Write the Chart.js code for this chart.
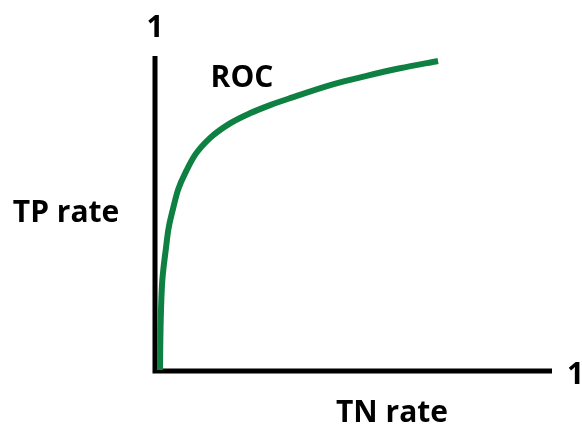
<!DOCTYPE html>
<html>
<head>
<meta charset="utf-8">
<script src="https://cdn.jsdelivr.net/npm/chart.js@4/dist/chart.umd.min.js"></script>
<style>
  html, body { margin: 0; padding: 0; background: #fff; }
  #wrap { width: 582px; height: 427px; }
</style>
</head>
<body>
<div id="wrap"><canvas id="roc"></canvas></div>
<script>
// ROC curve (x = TN rate, y = TP rate)
var tnRate = [0.0126, 0.0134, 0.0151, 0.0176, 0.0209, 0.027, 0.0335, 0.0446, 0.058, 0.080, 0.101, 0.139, 0.189, 0.239, 0.290, 0.340, 0.448, 0.533, 0.617, 0.713];
var tpRate = [0.003, 0.098, 0.194, 0.273, 0.321, 0.384, 0.448, 0.511, 0.575, 0.638, 0.686, 0.740, 0.786, 0.818, 0.844, 0.866, 0.910, 0.937, 0.961, 0.984];
var curveLabel = 'ROC';
var xTitle = 'TN rate';
var yTitle = 'TP rate';
var axisMaxLabel = '1';

var points = [];
for (var i = 0; i < tnRate.length; i++) {
  points.push({ x: tnRate[i], y: tpRate[i] });
}

var FONT = 'bold 30px "Open Sans", sans-serif';

// draws the two black axes and the texts around them
var axesPlugin = {
  id: 'rocAxes',
  beforeDatasetsDraw: function (chart) {
    var ctx = chart.ctx;
    var xs = chart.scales.x, ys = chart.scales.y;
    var x0 = xs.getPixelForValue(0), y0 = ys.getPixelForValue(0);
    var x1 = xs.getPixelForValue(1), y1 = ys.getPixelForValue(1);
    ctx.save();
    ctx.strokeStyle = '#000';
    ctx.lineWidth = 5;
    ctx.lineCap = 'butt';
    ctx.beginPath();
    ctx.moveTo(x0, y1);
    ctx.lineTo(x0, y0 + 2.5);
    ctx.moveTo(x0 - 2.5, y0);
    ctx.lineTo(x1, y0);
    ctx.stroke();
    ctx.restore();
  },
  afterDraw: function (chart) {
    var ctx = chart.ctx;
    var xs = chart.scales.x, ys = chart.scales.y;
    var x0 = xs.getPixelForValue(0), y0 = ys.getPixelForValue(0);
    var x1 = xs.getPixelForValue(1), y1 = ys.getPixelForValue(1);
    ctx.save();
    ctx.fillStyle = '#000';
    ctx.font = FONT;
    ctx.textBaseline = 'middle';
    ctx.textAlign = 'center';
    ctx.fillText(axisMaxLabel, x0, y1 - 28);
    ctx.textAlign = 'left';
    ctx.fillText(axisMaxLabel, x1 + 15, y0 + 4);
    ctx.fillText(curveLabel, xs.getPixelForValue(0.14), ys.getPixelForValue(0.93));
    ctx.textAlign = 'center';
    ctx.fillText(xTitle, xs.getPixelForValue(0.597), y0 + 42);
    ctx.fillText(yTitle, 66, ys.getPixelForValue(0.5));
    ctx.restore();
  }
};

new Chart(document.getElementById('roc'), {
  type: 'scatter',
  data: {
    datasets: [{
      label: curveLabel,
      data: points,
      showLine: true,
      borderColor: '#0e8042',
      borderWidth: 6,
      pointRadius: 0,
      cubicInterpolationMode: 'monotone',
      borderCapStyle: 'butt'
    }]
  },
  options: {
    responsive: true,
    maintainAspectRatio: false,
    animation: false,
    layout: { padding: { left: 155, right: 30, top: 56, bottom: 56 } },
    plugins: {
      legend: { display: false },
      tooltip: { enabled: false }
    },
    scales: {
      x: { type: 'linear', min: 0, max: 1, display: false },
      y: { type: 'linear', min: 0, max: 1, display: false }
    }
  },
  plugins: [axesPlugin]
});
</script>
</body>
</html>
